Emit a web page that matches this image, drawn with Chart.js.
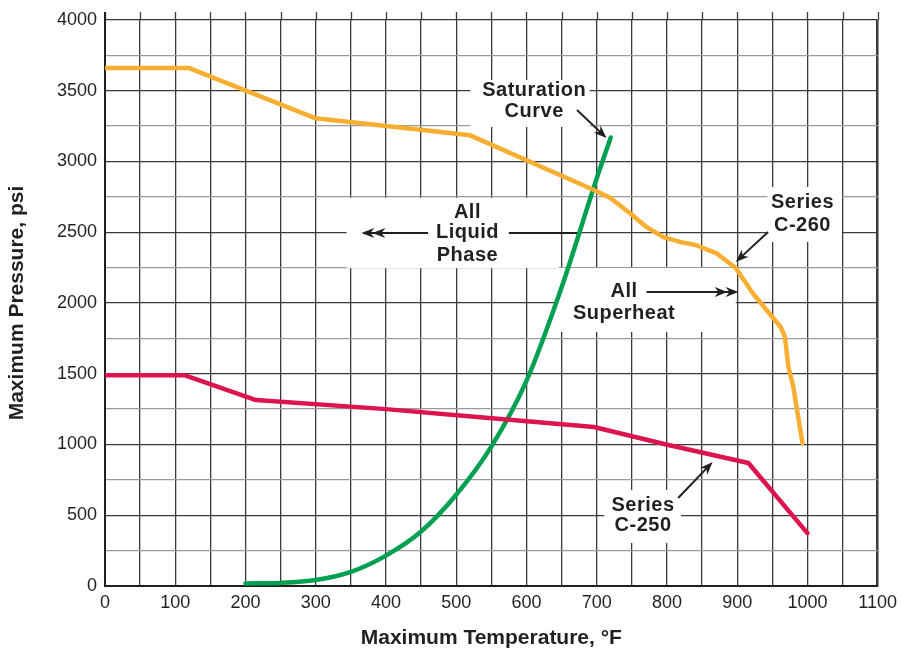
<!DOCTYPE html>
<html>
<head>
<meta charset="utf-8">
<script src="https://cdn.jsdelivr.net/npm/chart.js@4.4.0/dist/chart.umd.min.js"></script>
<style>
  body { margin: 0; background: #fff; }
  #wrap { width: 903px; height: 650px; }
</style>
</head>
<body>
<div id="wrap"><canvas id="chart" width="903" height="650"></canvas></div>
<script>
// series C-260 (orange)
var c260Temp = [0, 120, 300, 520, 700, 720, 747, 770, 795, 820, 841, 870, 898, 922, 950, 962, 968, 973, 980, 993];
var c260Psi  = [3660, 3660, 3305, 3185, 2790, 2740, 2636, 2540, 2466, 2430, 2410, 2353, 2247, 2071, 1901, 1830, 1760, 1548, 1406, 1010];

// series C-250 (red)
var c250Temp = [0, 113, 215, 400, 530, 696, 799, 916, 1000];
var c250Psi  = [1490, 1490, 1314, 1250, 1194, 1124, 1000, 869, 374];

// saturation curve (green)
var satTemp = [200, 250, 300, 350, 400, 450, 500, 550, 600, 650, 700, 720];
var satPsi  = [18, 22, 42, 100, 215, 385, 645, 985, 1450, 2110, 2880, 3170];

var xTicks = [0, 100, 200, 300, 400, 500, 600, 700, 800, 900, 1000, 1100];
var yTicks = [0, 500, 1000, 1500, 2000, 2500, 3000, 3500, 4000];

var ink = '#231f20';
var fontFam = '"Liberation Sans", Arial, Helvetica, sans-serif';

function pts(xs, ys) {
    var out = [];
    for (var i = 0; i < xs.length; i++) out.push({x: xs[i], y: ys[i]});
    return out;
}

// callout boxes, texts and arrows, in data units
var notes = [
    {box: [520, 3576, 690, 3244], cx: 611, lines: ['Saturation', 'Curve'], ly: [3505, 3350],
     arrows: [{from: [672, 3364], to: [714, 3166], heads: 1}]},
    {box: [344, 2742, 646, 2247], cx: 516, lines: ['All', 'Liquid', 'Phase'], ly: [2643, 2495, 2339],
     arrows: [{from: [672, 2495], to: [575, 2495], heads: 0}, {from: [460, 2495], to: [365, 2495], heads: 2}]},
    {box: [643, 2247, 898, 1795], cx: 739, lines: ['All', 'Superheat'], ly: [2078, 1929],
     arrows: [{from: [771, 2078], to: [902, 2078], heads: 2}]},
    {box: [943, 2820, 1049, 2431], cx: 993, lines: ['Series', 'C-260'], ly: [2707, 2551],
     arrows: [{from: [944, 2502], to: [898, 2290], heads: 1}]},
    {box: [711, 678, 820, 304], cx: 766, lines: ['Series', 'C-250'], ly: [572, 431],
     arrows: [{from: [816, 622], to: [865, 876], heads: 1}]}
];

function arrowHead(ctx, x, y, ang) {
    var len = 13, half = 5;
    ctx.save();
    ctx.translate(x, y);
    ctx.rotate(ang);
    ctx.beginPath();
    ctx.moveTo(0, 0);
    ctx.lineTo(-len, -half);
    ctx.lineTo(-len + 4, 0);
    ctx.lineTo(-len, half);
    ctx.closePath();
    ctx.fill();
    ctx.restore();
}

var notesPlugin = {
    id: 'notes',
    beforeDatasetsDraw: function (chart) {
        var ctx = chart.ctx, xs = chart.scales.x, ys = chart.scales.y;
        ctx.save();
        ctx.fillStyle = '#fff';
        notes.forEach(function (n) {
            var x1 = xs.getPixelForValue(n.box[0]), y1 = ys.getPixelForValue(n.box[1]);
            var x2 = xs.getPixelForValue(n.box[2]), y2 = ys.getPixelForValue(n.box[3]);
            ctx.fillRect(x1, y1, x2 - x1, y2 - y1);
        });
        // grid lines poke out above the top line
        var top = chart.chartArea.top;
        ctx.strokeStyle = '#3a3a3a';
        ctx.lineWidth = 1.3;
        for (var v = 0; v <= 1100; v += 50) {
            var px = Math.round(xs.getPixelForValue(v)) + 0.5;
            ctx.beginPath();
            ctx.moveTo(px, top - 8);
            ctx.lineTo(px, top);
            ctx.stroke();
        }
        ctx.lineWidth = 2;
        ctx.strokeStyle = ink;
        ctx.beginPath();
        ctx.moveTo(chart.chartArea.left, top - 8);
        ctx.lineTo(chart.chartArea.left, top);
        ctx.stroke();
        ctx.restore();
    },
    afterDatasetsDraw: function (chart) {
        var ctx = chart.ctx, xs = chart.scales.x, ys = chart.scales.y;
        ctx.save();
        ctx.fillStyle = ink;
        ctx.strokeStyle = ink;
        ctx.lineWidth = 2;
        ctx.font = 'bold 20px ' + fontFam;
        ctx.letterSpacing = '0.5px';
        ctx.textAlign = 'center';
        ctx.textBaseline = 'middle';
        notes.forEach(function (n) {
            n.lines.forEach(function (t, i) {
                ctx.fillText(t, xs.getPixelForValue(n.cx), ys.getPixelForValue(n.ly[i]));
            });
            n.arrows.forEach(function (a) {
                var fx = xs.getPixelForValue(a.from[0]), fy = ys.getPixelForValue(a.from[1]);
                var tx = xs.getPixelForValue(a.to[0]), ty = ys.getPixelForValue(a.to[1]);
                var ang = Math.atan2(ty - fy, tx - fx);
                var cut = a.heads ? 6 : 0;
                ctx.beginPath();
                ctx.moveTo(fx, fy);
                ctx.lineTo(tx - Math.cos(ang) * cut, ty - Math.sin(ang) * cut);
                ctx.stroke();
                if (a.heads >= 1) arrowHead(ctx, tx, ty, ang);
                if (a.heads >= 2) arrowHead(ctx, tx - Math.cos(ang) * 11, ty - Math.sin(ang) * 11, ang);
            });
        });
        ctx.restore();
    }
};

var tickFont = {family: fontFam, size: 18};
var titleFont = {family: fontFam, size: 21, weight: 'bold', lineHeight: 1};

new Chart(document.getElementById('chart'), {
    type: 'line',
    data: {
        datasets: [
            {label: 'Series C-260', data: pts(c260Temp, c260Psi), borderColor: '#f8ae30', borderWidth: 4.5, tension: 0},
            {label: 'Series C-250', data: pts(c250Temp, c250Psi), borderColor: '#dc1450', borderWidth: 4.5, tension: 0},
            {label: 'Saturation Curve', data: pts(satTemp, satPsi), borderColor: '#00a050', borderWidth: 4.5, cubicInterpolationMode: 'monotone'}
        ]
    },
    options: {
        responsive: false,
        animation: false,
        events: [],
        elements: {point: {radius: 0}, line: {borderCapStyle: 'round', borderJoinStyle: 'round'}},
        layout: {padding: {top: 20, right: 20, left: 0, bottom: 0}},
        plugins: {legend: {display: false}, tooltip: {enabled: false}},
        scales: {
            x: {
                type: 'linear', min: 0, max: 1100,
                afterFit: function (s) { s.height = 64; },
                ticks: {
                    stepSize: 50, autoSkip: false, maxRotation: 0, padding: 6, color: ink, font: tickFont,
                    callback: function (v) { return xTicks.indexOf(v) >= 0 ? String(v) : ''; }
                },
                grid: {
                    drawTicks: false,
                    color: '#3a3a3a',
                    lineWidth: function (c) { return c.tick && c.tick.value === 1100 ? 2.5 : 1.3; }
                },
                border: {color: ink, width: 2},
                title: {display: true, text: 'Maximum Temperature, \u00b0F', color: ink, font: titleFont, padding: {top: 0, bottom: 1}}
            },
            y: {
                min: 0, max: 4000,
                afterFit: function (s) { s.width = 105; },
                ticks: {
                    stepSize: 250, autoSkip: false, padding: 8, color: ink, font: tickFont,
                    callback: function (v) { return yTicks.indexOf(v) >= 0 ? String(v) : ''; }
                },
                grid: {
                    drawTicks: false,
                    color: function (c) { return c.tick && c.tick.value % 500 === 0 ? '#3a3a3a' : '#9a9a9a'; },
                    lineWidth: 1.3
                },
                border: {color: ink, width: 2},
                title: {display: true, text: 'Maximum Pressure, psi', color: ink, font: titleFont, padding: {top: 7, bottom: 0}}
            }
        }
    },
    plugins: [notesPlugin]
});
</script>
</body>
</html>
